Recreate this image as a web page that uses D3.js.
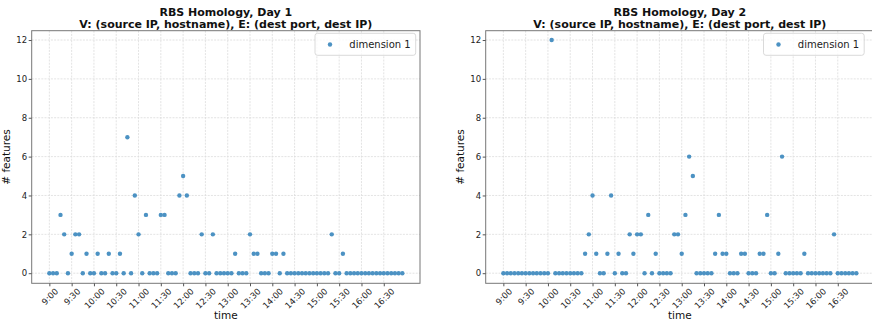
<!DOCTYPE html>
<html>
<head>
<meta charset="utf-8">
<script src="https://cdn.jsdelivr.net/npm/d3@7"></script>
<style>
  html, body { margin: 0; padding: 0; background: #fff; }
  svg { display: block; font-family: "DejaVu Sans", sans-serif; }
</style>
</head>
<body>
<svg id="chart" width="872" height="323"></svg>
<script>
// Sample times (5-minute bins over the working day)
const times = [
  "9:00","9:05","9:10","9:15","9:20","9:25","9:30","9:35","9:40","9:45","9:50","9:55",
  "10:00","10:05","10:10","10:15","10:20","10:25","10:30","10:35","10:40","10:45","10:50","10:55",
  "11:00","11:05","11:10","11:15","11:20","11:25","11:30","11:35","11:40","11:45","11:50","11:55",
  "12:00","12:05","12:10","12:15","12:20","12:25","12:30","12:35","12:40","12:45","12:50","12:55",
  "13:00","13:05","13:10","13:15","13:20","13:25","13:30","13:35","13:40","13:45","13:50","13:55",
  "14:00","14:05","14:10","14:15","14:20","14:25","14:30","14:35","14:40","14:45","14:50","14:55",
  "15:00","15:05","15:10","15:15","15:20","15:25","15:30","15:35","15:40","15:45","15:50","15:55",
  "16:00","16:05","16:10","16:15","16:20","16:25","16:30","16:35","16:40","16:45","16:50","16:55"
];

// Number of homology features (dimension 1) per time bin
const day1Features = [
  0,0,0,3,2,0,1,2,2,0,1,0,
  0,1,0,0,1,0,0,1,0,7,0,4,
  2,0,3,0,0,0,3,3,0,0,0,4,
  5,4,0,0,0,2,0,0,2,0,0,0,
  0,0,1,0,0,0,2,1,1,0,0,0,
  1,1,0,1,0,0,0,0,0,0,0,0,
  0,0,0,0,2,0,0,1,0,0,0,0,
  0,0,0,0,0,0,0,0,0,0,0,0
];
const day2Features = [
  0,0,0,0,0,0,0,0,0,0,0,0,
  0,12,0,0,0,0,0,0,0,0,1,2,
  4,1,0,0,1,4,0,1,0,0,2,1,
  2,2,0,3,0,1,0,0,0,0,2,2,
  1,3,6,5,0,0,0,0,0,1,3,1,
  1,0,0,0,1,1,0,0,0,1,1,3,
  0,0,1,6,0,0,0,0,0,1,0,0,
  0,0,0,0,0,2,0,0,0,0,0,0
];

const xTickLabels = ["9:00","9:30","10:00","10:30","11:00","11:30","12:00","12:30",
                     "13:00","13:30","14:00","14:30","15:00","15:30","16:00","16:30"];
const yTicks = [0, 2, 4, 6, 8, 10, 12];

const panelTitles = [
  ["RBS Homology, Day 1", "V: (source IP, hostname), E: (dest port, dest IP)"],
  ["RBS Homology, Day 2", "V: (source IP, hostname), E: (dest port, dest IP)"]
];
const seriesName = "dimension 1";
const xLabel = "time";
const yLabel = "# features";

// ---- drawing ----
const svg = d3.select("#chart");
const parse = d3.timeParse("%H:%M");
const dotColor = "#4c92c3";

const panels = [
  { left: 31.7, right: 420, values: day1Features, titles: panelTitles[0] },
  { left: 485.7, right: 874, values: day2Features, titles: panelTitles[1] }
];
const plotTop = 30.7, plotBottom = 283.3;

const tStart = parse("9:00"), tEnd = parse("16:55");
const pad = (tEnd - tStart) * 0.05;

const y = d3.scaleLinear().domain([-0.52, 12.48]).range([plotBottom, plotTop]);

panels.forEach(p => {
  const g = svg.append("g");
  const x = d3.scaleTime()
    .domain([new Date(+tStart - pad), new Date(+tEnd + pad)])
    .range([p.left, p.right]);
  const midX = (p.left + p.right) / 2;

  // grid
  const tickDates = xTickLabels.map(parse);
  g.append("g").selectAll("line").data(tickDates).join("line")
    .attr("x1", d => x(d)).attr("x2", d => x(d))
    .attr("y1", plotTop).attr("y2", plotBottom)
    .attr("stroke", "#dcdcdc").attr("stroke-width", 0.8)
    .attr("stroke-dasharray", "2,1.2");
  g.append("g").selectAll("line").data(yTicks).join("line")
    .attr("x1", p.left).attr("x2", p.right)
    .attr("y1", d => y(d)).attr("y2", d => y(d))
    .attr("stroke", "#dcdcdc").attr("stroke-width", 0.8)
    .attr("stroke-dasharray", "2,1.2");

  // points
  g.append("g").selectAll("circle").data(times.map((t, i) => ({ t: parse(t), v: p.values[i] })))
    .join("circle")
    .attr("cx", d => x(d.t)).attr("cy", d => y(d.v))
    .attr("r", 2.2).attr("fill", dotColor);

  // frame
  g.append("rect")
    .attr("x", p.left).attr("y", plotTop)
    .attr("width", p.right - p.left).attr("height", plotBottom - plotTop)
    .attr("fill", "none").attr("stroke", "#777").attr("stroke-width", 1);

  // x axis
  const tickSize = 3, tickPad = 1.2, fs = 8.5;
  const xa = g.append("g").attr("transform", `translate(0,${plotBottom})`)
    .call(d3.axisBottom(x).tickValues(tickDates)
      .tickFormat((d, i) => xTickLabels[i]).tickSize(tickSize).tickSizeOuter(0));
  xa.select(".domain").remove();
  xa.selectAll(".tick line").attr("stroke", "#555");
  xa.selectAll(".tick text")
    .attr("font-size", fs).attr("fill", "#222")
    .attr("font-family", "DejaVu Sans")
    .attr("text-anchor", "middle")
    .attr("dominant-baseline", "central")
    .attr("y", 0).attr("dy", null)
    .each(function () {
      const w = this.getComputedTextLength();
      const h = fs * 0.75;
      const s = (w + h) / Math.SQRT2;
      d3.select(this).attr("transform",
        `translate(0,${tickSize + tickPad + s / 2}) rotate(-45)`);
    });

  // y axis
  const ya = g.append("g").attr("transform", `translate(${p.left},0)`)
    .call(d3.axisLeft(y).tickValues(yTicks).tickSize(3).tickPadding(1.5).tickSizeOuter(0));
  ya.select(".domain").remove();
  ya.selectAll(".tick line").attr("stroke", "#555");
  ya.selectAll(".tick text").attr("font-size", 8.5).attr("fill", "#222")
    .attr("font-family", "DejaVu Sans");

  // axis labels
  g.append("text").attr("x", midX).attr("y", 319)
    .attr("text-anchor", "middle").attr("font-size", 10.5).attr("fill", "#111")
    .text(xLabel);
  g.append("text")
    .attr("transform", `translate(${p.left - 21.5},${(plotTop + plotBottom) / 2}) rotate(-90)`)
    .attr("text-anchor", "middle").attr("font-size", 10.5).attr("fill", "#111")
    .text(yLabel);

  // title
  g.append("text").attr("x", midX).attr("y", 15.5)
    .attr("text-anchor", "middle").attr("font-size", 11).attr("font-weight", "bold")
    .attr("fill", "#111").text(p.titles[0]);
  g.append("text").attr("x", midX).attr("y", 28)
    .attr("text-anchor", "middle").attr("font-size", 11).attr("font-weight", "bold")
    .attr("fill", "#111").text(p.titles[1]);

  // legend
  const lgRight = Math.min(p.right, 868.5) - 4.3;
  const lg = g.append("g").attr("transform", `translate(${lgRight - 100.7},33.3)`);
  lg.append("rect").attr("width", 100.7).attr("height", 22).attr("rx", 2.5)
    .attr("fill", "#fff").attr("fill-opacity", 0.8)
    .attr("stroke", "#d0d0d0").attr("stroke-width", 0.8);
  lg.append("circle").attr("cx", 15).attr("cy", 11.2).attr("r", 2.2).attr("fill", dotColor);
  lg.append("text").attr("x", 34.3).attr("y", 14.8)
    .attr("font-size", 10).attr("fill", "#222").text(seriesName);
});
</script>
</body>
</html>
